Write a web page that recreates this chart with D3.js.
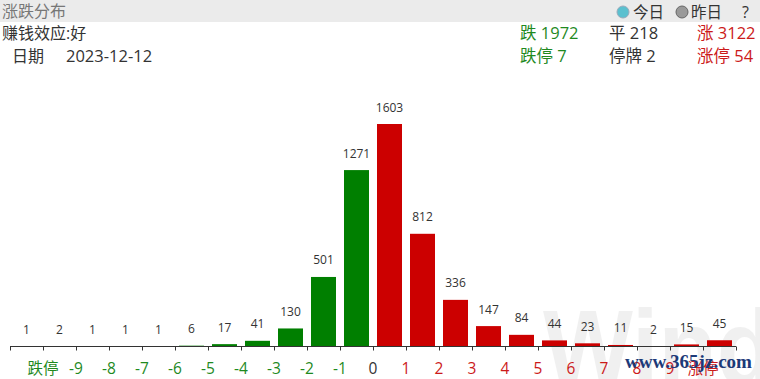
<!DOCTYPE html>
<html><head><meta charset="utf-8">
<script src="https://cdn.jsdelivr.net/npm/d3@7"></script>
<style>
html,body{margin:0;padding:0;background:#fff;}
svg{display:block;font-family:"Open Sans","Noto Sans CJK SC",sans-serif;}
</style></head><body>
<svg id="c" width="760" height="379"></svg>
<script>
const values = [1,2,1,1,1,6,17,41,130,501,1271,1603,812,336,147,84,44,23,11,2,15,45];
const tickLabels = ["跌停","-9","-8","-7","-6","-5","-4","-3","-2","-1","0","1","2","3","4","5","6","7","8","9","涨停"];
const summaryTop = [["跌 1972","#1f8a1f"],["平 218","#333"],["涨 3122","#cc1a1a"]];
const summaryBot = [["跌停 7","#1f8a1f"],["停牌 2","#333"],["涨停 54","#cc1a1a"]];
const title = "涨跌分布", effect = "赚钱效应:好", dateLabel = "日期", dateVal = "2023-12-12";

const svg = d3.select("#c");
const FS = 16.5;
// header band
svg.append("rect").attr("x",0).attr("y",0).attr("width",760).attr("height",22).attr("fill","#ebebeb");
svg.append("text").attr("x",2).attr("y",17).attr("font-size",16).attr("fill","#777").text(title);
svg.append("circle").attr("cx",623).attr("cy",12).attr("r",6).attr("fill","#5bc0cf").attr("stroke","#9ab","stroke-width",0.8);
svg.append("text").attr("x",633).attr("y",18).attr("font-size",15.5).attr("fill","#333").text("今日");
svg.append("circle").attr("cx",682).attr("cy",12).attr("r",6).attr("fill","#999").attr("stroke","#666","stroke-width",0.8);
svg.append("text").attr("x",691).attr("y",18).attr("font-size",15.5).attr("fill","#333").text("昨日");
svg.append("text").attr("x",742).attr("y",18).attr("font-size",16).attr("fill","#333").text("?");

svg.append("text").attr("x",2).attr("y",39).attr("font-size",16).attr("fill","#333").text(effect);
svg.append("text").attr("x",12).attr("y",62).attr("font-size",16).attr("fill","#333").text(dateLabel);
svg.append("text").attr("x",66).attr("y",62).attr("font-size",FS).attr("fill","#333").text(dateVal);
const sx = [520,609,697];
summaryTop.forEach((s,i)=>svg.append("text").attr("x",sx[i]).attr("y",39).attr("font-size",FS).attr("fill",s[1]).text(s[0]));
summaryBot.forEach((s,i)=>svg.append("text").attr("x",sx[i]).attr("y",62).attr("font-size",FS).attr("fill",s[1]).text(s[0]));

// watermark
svg.append("text").attr("x",543).attr("y",384).attr("font-size",105).attr("font-family","Liberation Sans, Arial, sans-serif")
  .attr("font-weight","bold").attr("fill","#000").attr("opacity",0.055)
  .attr("textLength",232).attr("lengthAdjust","spacingAndGlyphs").text("Wind");

// chart
const x = d3.scaleBand().domain(d3.range(values.length)).range([10,736]).paddingInner(8/33).paddingOuter(4/33).align(0.5);
const y = d3.scaleLinear().domain([0,1603]).range([346.5,124]);
const g = svg.append("g");
g.selectAll("rect.bar").data(values).join("rect").attr("class","bar")
  .attr("x",(d,i)=>x(i)).attr("width",x.bandwidth())
  .attr("y",d=>y(d)).attr("height",d=>y(0)-y(d))
  .attr("fill",(d,i)=>i<11?"#007f00":"#cc0000");
g.selectAll("text.val").data(values).join("text").attr("class","val")
  .attr("x",(d,i)=>x(i)+x.bandwidth()/2).attr("y",d=>y(d)-12.5)
  .attr("text-anchor","middle").attr("font-size",12).attr("fill","#333").text(d=>d);

// axis
const ax = d3.scaleLinear().domain([0,values.length]).range([10,736]);
const axis = d3.axisBottom(ax).tickValues(d3.range(values.length+1)).tickSize(4).tickFormat("");
const ag = svg.append("g").attr("transform","translate(0,346.5)").call(axis);
ag.select(".domain").attr("stroke","#333").attr("stroke-width",1.2).attr("d","M10,0H736");
ag.selectAll(".tick line").attr("stroke","#333");
svg.selectAll("text.tl").data(tickLabels).join("text").attr("class","tl")
  .attr("x",(d,i)=>ax(i+1)).attr("y",374).attr("text-anchor","middle").attr("font-size",15.5)
  .attr("fill",(d,i)=>i<10?"#1f8a1f":(i===10?"#333":"#cc1a1a")).text(d=>d);

svg.append("text").attr("x",625).attr("y",368).attr("font-size",19)
  .attr("font-family","Liberation Serif, serif").attr("font-weight","bold")
  .attr("textLength",127).attr("lengthAdjust","spacingAndGlyphs")
  .attr("fill","#1c3a78").text("www.365jz.com");
</script>
</body></html>
